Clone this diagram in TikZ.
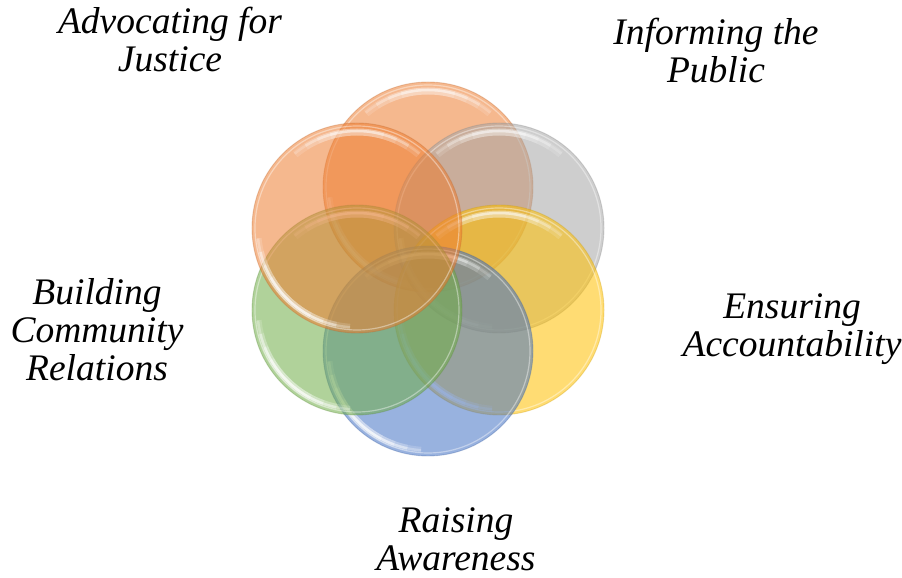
\documentclass[tikz,border=0pt]{standalone}
\usepackage{fontspec}
\setmainfont{Liberation Serif}
\usetikzlibrary{calc}

\definecolor{cOrange}{HTML}{ED7D31}
\definecolor{cGray}{HTML}{A5A5A5}
\definecolor{cGold}{HTML}{FFC000}
\definecolor{cBlue}{HTML}{4472C4}
\definecolor{cGreen}{HTML}{70AD47}

\tikzset{
  label text/.style={font=\itshape\fontsize{37.5}{38}\selectfont, align=center, inner sep=0pt, anchor=base},
  glare/.style={white, draw opacity=#1},
}

% tapered glare arc: #1 centre, #2 mid angle, #3 radius, #4 line width, #5 step opacity
\newcommand\glarearc[5]{%
  \foreach \h in {40, 32, 24, 16}{
    \draw[glare=#5, line width=#4] ($(#1)+(#2+\h:#3)$) arc[start angle=#2+\h, end angle=#2-\h, radius=#3];
  }%
}

% glass disc: #1 colour, #2 centre coordinate
\newcommand\glassdisc[2]{%
  \fill[#1, fill opacity=0.55] (#2) circle[radius=105];
  \draw[#1!80!black, draw opacity=0.3, line width=0.9pt] (#2) circle[radius=105];
  \draw[white, draw opacity=0.4, line width=1.2pt] (#2) circle[radius=102];
  \glarearc{#2}{90}{96}{7pt}{0.13}
  \glarearc{#2}{90}{97}{2.5pt}{0.18}
  \glarearc{#2}{226}{99}{6pt}{0.16}
  \glarearc{#2}{226}{99.5}{2.5pt}{0.28}
}

\begin{document}
\begin{tikzpicture}[x=1pt, y=1pt]
  \useasboundingbox (0,0) rectangle (902,578);

  \coordinate (hub) at (428,309);
  \coordinate (pTop) at ($(hub)+(90:82)$);
  \coordinate (pUR)  at ($(hub)+(30:82)$);
  \coordinate (pLR)  at ($(hub)+(-30:82)$);
  \coordinate (pBot) at ($(hub)+(-90:82)$);
  \coordinate (pLL)  at ($(hub)+(210:82)$);
  \coordinate (pUL)  at ($(hub)+(150:82)$);

  \glassdisc{cOrange}{pTop}
  \glassdisc{cGray}{pUR}
  \glassdisc{cGold}{pLR}
  \glassdisc{cBlue}{pBot}
  \glassdisc{cGreen}{pLL}
  \glassdisc{cOrange}{pUL}

  \node[label text] (tJustice) at (170,506) {Advocating for\\Justice};
  \node[label text] (tPublic) at (716,495) {Informing the\\Public};
  \node[label text] (tAccount) at (792,221) {Ensuring\\Accountability};
  \node[label text] (tAware) at (456,7) {Raising\\Awareness};
  \node[label text] (tCommunity) at (97,197) {Building\\Community\\Relations};
\end{tikzpicture}
\end{document}
